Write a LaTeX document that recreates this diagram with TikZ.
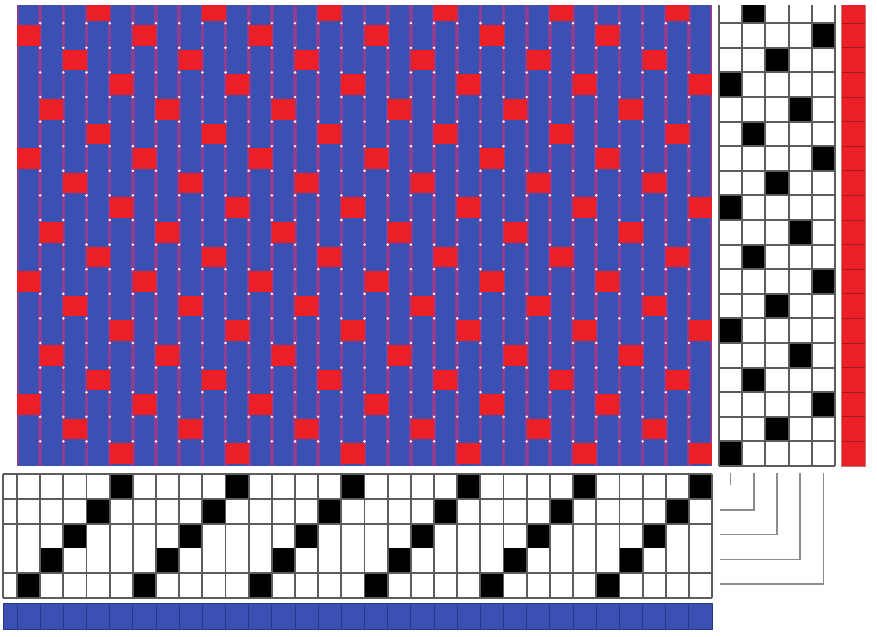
\documentclass[tikz,border=0pt]{standalone}
\usepackage{tikz}
\definecolor{warpblue}{HTML}{3A50B2}
\definecolor{weftred}{HTML}{EC1F26}
\definecolor{gapviolet}{HTML}{8C3E92}
\definecolor{gridgray}{HTML}{5C5C5C}
\definecolor{tiegray}{HTML}{8C8C8C}
\definecolor{barline}{HTML}{26388C}
\definecolor{barredline}{HTML}{9E1A1C}

\begin{document}
\begin{tikzpicture}[x=0.3mm, y=-0.3mm,
    gridline/.style={line width=0.55mm, gridgray},
    tieline/.style={line width=0.45mm, tiegray},
    cellblack/.style={fill=black}]
  \useasboundingbox (0,0) rectangle (877,636);

  \begin{scope}
    % top row is cut by the edge of the picture
    \clip (0,5) rectangle (877,636);

    % Drawdown: violet gaps, blue warp ends
    \fill[gapviolet] (17,-2) rectangle (712,466);
    \foreach \e in {1,...,30}
      \fill[warpblue] ({17+(\e-1)*23.17+1.8},-2) rectangle ({17+\e*23.17-1.8},466);

    % Red weft floats, one every five ends
    \foreach \r in {1,...,19} {
      \pgfmathtruncatemacro{\t}{mod(2*(\r-1),5)+1}
      \pgfmathtruncatemacro{\s}{6-\t}
      \foreach \e in {1,...,30} {
        \pgfmathtruncatemacro{\sh}{mod(\e-1,5)+1}
        \ifnum\sh=\s
          \fill[weftred] ({17+(\e-1)*23.17},{466-\r*24.6+2}) rectangle ({17+\e*23.17},{466-(\r-1)*24.6-2});
        \fi
      }
      % Treadling mark for the same pick
      \fill[cellblack] ({719+(\t-1)*23.2},{466-\r*24.6}) rectangle ({719+\t*23.2},{466-(\r-1)*24.6});
    }

    % White dots at the crossings
    \foreach \i in {1,...,29}
      \foreach \j in {1,...,18}
        \fill[white] ({17+\i*23.17},{466-\j*24.6}) circle (1.4);

    % Treadling grid
    \foreach \i in {0,...,5}
      \draw[gridline] ({719+\i*23.2},-2) -- ({719+\i*23.2},466);
    \foreach \j in {0,...,18}
      \draw[gridline] (719,{466-\j*24.6}) -- (835,{466-\j*24.6});

    % Red weft colour bar
    \fill[weftred] (841,-2) rectangle (865,466);
    \foreach \j in {1,...,18}
      \draw[barredline, line width=0.3mm] (841,{466-\j*24.6}) -- (865,{466-\j*24.6});
    \draw[barredline!60, line width=0.2mm] (841,-2) rectangle (865,466);
  \end{scope}

  % Threading: straight draw on five shafts
  \foreach \e in {1,...,30} {
    \pgfmathtruncatemacro{\sh}{mod(\e-1,5)+1}
    \fill[cellblack] ({17+(\e-1)*23.17},{598-\sh*24.8}) rectangle ({17+\e*23.17},{598-(\sh-1)*24.8});
  }
  \draw[gridline] (3,474) -- (3,598);
  \foreach \i in {0,...,30}
    \draw[gridline] ({17+\i*23.17},474) -- ({17+\i*23.17},598);
  \foreach \j in {0,1,3,4,5}
    \draw[gridline] (3,{598-\j*24.8}) -- (712,{598-\j*24.8});

  % Blue warp colour bar
  \fill[warpblue] (3,603) rectangle (712,629);
  \foreach \i in {0,...,29}
    \draw[barline, line width=0.3mm] ({17+\i*23.17},603) -- ({17+\i*23.17},629);
  \draw[barline, line width=0.3mm] (3,603) rectangle (712,629);

  % Tie-up lines from treadles to shafts
  \draw[tieline] (730.6,473) -- (730.6,485);
  \foreach \t in {2,...,5}
    \draw[tieline] ({719+(\t-0.5)*23.2},473) -- ({719+(\t-0.5)*23.2},{485+(\t-1)*24.8}) -- (720,{485+(\t-1)*24.8});
\end{tikzpicture}
\end{document}
